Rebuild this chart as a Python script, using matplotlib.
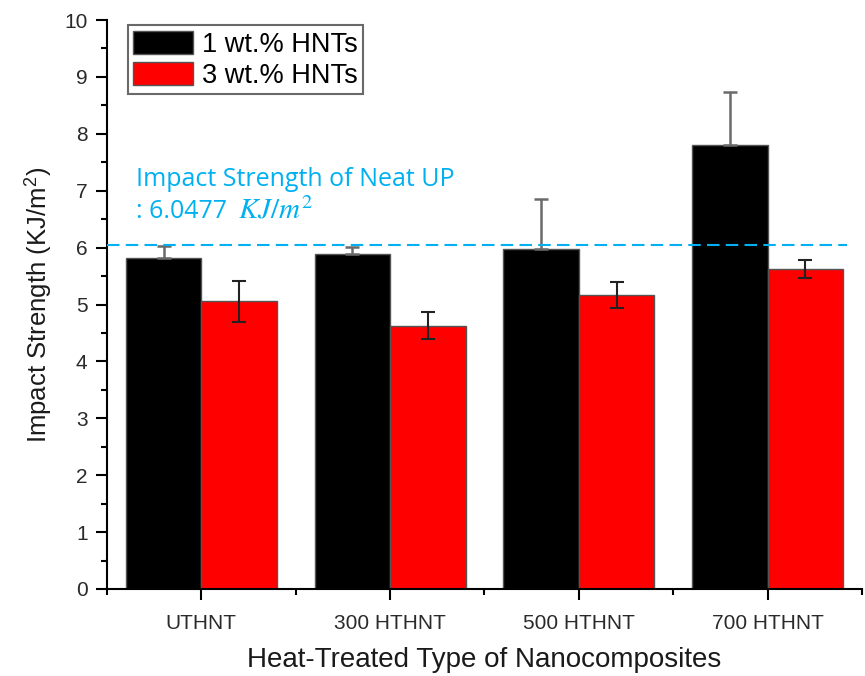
import matplotlib
matplotlib.use("Agg")
import matplotlib.pyplot as plt
import numpy as np
from matplotlib.ticker import MultipleLocator

# data
groups = ["UTHNT", "300 HTHNT", "500 HTHNT", "700 HTHNT"]
hnt1 = [5.82, 5.88, 5.98, 7.80]
hnt1_err = [0.20, 0.13, 0.87, 0.93]
hnt3 = [5.06, 4.63, 5.16, 5.63]
hnt3_err = [0.36, 0.24, 0.23, 0.16]
neat_up = 6.0477

plt.rcParams['font.family'] = ['Liberation Sans', 'DejaVu Sans']
plt.rcParams['mathtext.fontset'] = 'stix'

fig = plt.figure(figsize=(8.65, 6.76), dpi=100)
ax = fig.add_axes([0.1237, 0.1287, 0.8728, 0.8417])

x = np.arange(len(groups))
w = 0.4
# only the upper half of the error bar shows on the black bars
ax.bar(x - w / 2, hnt1, w, color='black', edgecolor='#555555', linewidth=1,
       yerr=[np.zeros(len(hnt1)), hnt1_err],
       error_kw=dict(ecolor='#6a6a6a', capsize=5, elinewidth=1.8, capthick=1.8),
       label='1 wt.% HNTs', zorder=2)
ax.bar(x + w / 2, hnt3, w, color='#ff0000', edgecolor='#555555', linewidth=1,
       yerr=hnt3_err, error_kw=dict(ecolor='#222222', capsize=5, elinewidth=1.5, capthick=1.5),
       label='3 wt.% HNTs', zorder=2)

ax.axhline(neat_up, xmin=0, xmax=0.98, color='#00b0f0', ls=(0, (6, 3)), lw=1.5, zorder=3)
txt_kw = dict(color='#00b0f0', family=['Open Sans', 'DejaVu Sans'], va='baseline', ha='left')
ax.text(-0.345, 7.08, 'Impact Strength of Neat UP', fontsize=18, **txt_kw)
t2 = ax.text(-0.345, 6.52, ': 6.0477', fontsize=18, **txt_kw)
ax.annotate('$KJ/m^2$', xy=(1, 0), xycoords=t2, xytext=(8, 0), textcoords='offset points',
            fontsize=21, color='#00b0f0', va='bottom', ha='left')

ax.set_xlim(-0.5, 3.5)
ax.set_ylim(0, 10)
ax.set_xticks(x)
ax.set_xticklabels(groups)
ax.xaxis.set_minor_locator(MultipleLocator(1, offset=0.5))
ax.yaxis.set_major_locator(MultipleLocator(1))
ax.yaxis.set_minor_locator(MultipleLocator(0.5))
ax.tick_params(axis='both', which='major', direction='out', length=8, width=1.5,
               labelsize=15, labelcolor='#2a2a2a')
ax.tick_params(axis='both', which='minor', direction='out', length=4.5, width=1.5)
ax.tick_params(axis='y', pad=6)
ax.tick_params(axis='x', pad=10)
for s in ['top', 'right']:
    ax.spines[s].set_visible(False)
for s in ['left', 'bottom']:
    ax.spines[s].set_linewidth(1.5)

ax.set_ylabel('Impact Strength (KJ/m$^\\mathregular{2}$)', fontsize=18.5, labelpad=7,
              color='#1a1a1a')
ax.set_xlabel('Heat-Treated Type of Nanocomposites', fontsize=20, labelpad=10,
              color='#1a1a1a')

leg = ax.legend(loc='upper left', bbox_to_anchor=(0.02, 1.0), fontsize=19.5, frameon=True,
                fancybox=False, edgecolor='#444444', handlelength=2.2, handleheight=0.95,
                handletextpad=0.35, borderpad=0.2, labelspacing=0.15, borderaxespad=0.2)
leg.get_frame().set_linewidth(1.5)

fig.savefig('out.png', dpi=100)
